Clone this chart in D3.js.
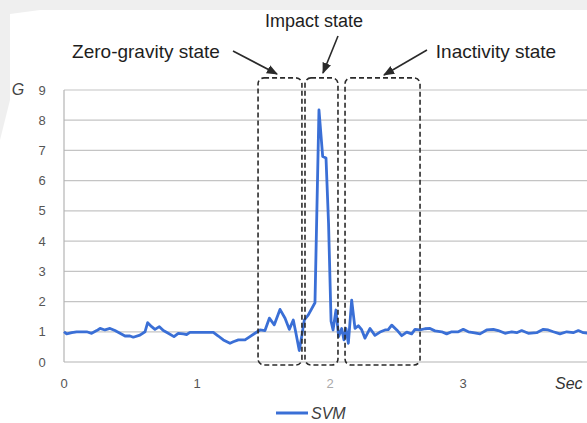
<!DOCTYPE html>
<html>
<head>
<meta charset="utf-8">
<script src="https://cdn.jsdelivr.net/npm/d3@7"></script>
<style>
  html, body { margin: 0; padding: 0; background: #fff; }
  svg { display: block; }
  text { font-family: "Liberation Sans", Arial, sans-serif; }
</style>
</head>
<body>
<svg id="chart" width="587" height="423"></svg>
<script>
// ---- data ----
const seconds = [
  0, 0.020, 0.058, 0.095, 0.171, 0.208, 0.246, 0.271, 0.308, 0.346,
  0.383, 0.421, 0.459, 0.496, 0.521, 0.571, 0.609, 0.629, 0.659, 0.684,
  0.717, 0.747, 0.784, 0.827, 0.859, 0.897, 0.922, 0.947, 1.023, 1.123,
  1.160, 1.198, 1.248, 1.273, 1.311, 1.361, 1.398,
  1.436, 1.474, 1.511, 1.544, 1.581, 1.624, 1.662, 1.694, 1.724, 1.744,
  1.769, 1.787, 1.807, 1.837, 1.887, 1.917, 1.945, 1.970, 1.989, 2.008,
  2.023, 2.045, 2.065, 2.088, 2.105, 2.120, 2.138, 2.163, 2.188, 2.213,
  2.238, 2.263, 2.301, 2.338, 2.376, 2.414, 2.438, 2.464, 2.502, 2.539,
  2.577, 2.614, 2.639, 2.677, 2.714, 2.752, 2.789,
  2.840, 2.877, 2.915, 2.965, 3.002, 3.040, 3.077, 3.128, 3.178, 3.228,
  3.265, 3.316, 3.366, 3.404, 3.441, 3.491, 3.554, 3.604, 3.641, 3.679,
  3.729, 3.780, 3.829, 3.867, 3.905, 3.955
];
const svm = [
  1.0, 0.93, 0.97, 1.0, 1.0, 0.95, 1.04, 1.11, 1.06, 1.11,
  1.04, 0.95, 0.86, 0.86, 0.82, 0.89, 1.0, 1.30, 1.17, 1.08,
  1.17, 1.04, 0.95, 0.84, 0.95, 0.93, 0.91, 0.98, 0.98, 0.98,
  0.86, 0.73, 0.62, 0.67, 0.73, 0.73, 0.84,
  0.95, 1.06, 1.04, 1.45, 1.23, 1.74, 1.45, 1.08, 1.39, 0.95,
  0.38, 0.84, 1.39, 1.56, 1.96, 8.34, 6.80, 6.75, 4.6, 1.35,
  1.06, 1.72, 0.84, 1.11, 0.73, 1.11, 0.62, 2.05, 1.11, 1.2,
  1.07, 0.79, 1.11, 0.88, 0.99, 1.06, 1.07, 1.22, 1.06, 0.87,
  0.99, 0.93, 1.08, 1.06, 1.1, 1.11, 1.03,
  1.0, 0.93, 1.0, 1.0, 1.08, 1.0, 0.97, 0.93, 1.06, 1.08,
  1.04, 0.95, 1.0, 0.97, 1.04, 0.95, 0.97, 1.08, 1.06, 1.0,
  0.93, 1.0, 0.97, 1.04, 0.97, 0.95
];
const yTicks = [0, 1, 2, 3, 4, 5, 6, 7, 8, 9];
const xTicks = [0, 1, 2, 3];
const seriesName = "SVM";
const yAxisTitle = "G";
const xAxisTitle = "Sec";

// state boxes (seconds)
const stateNames = ["Zero-gravity state", "Impact state", "Inactivity state"];
const stateStart = [1.459, 1.812, 2.113];
const stateEnd   = [1.789, 2.060, 2.677];
const boxTop = 9.4, boxBottom = -0.1;

// ---- layout ----
const svg = d3.select("#chart");
const W = 587, H = 423;
const mLeft = 64, mTop = 90, mBottom = 362;
const pxPerSec = 133;
const x = d3.scaleLinear().domain([0, (W - mLeft) / pxPerSec]).range([mLeft, W]);
const y = d3.scaleLinear().domain([0, 9]).range([mBottom, mTop]);

// background (scanned page look)
svg.append("rect").attr("width", W).attr("height", H).attr("fill", "#ffffff");
svg.append("polygon")
  .attr("points", "0,0 587,0 587,10 40,10 10,14 10,100 0,140")
  .attr("fill", "#efefef");

// gridlines
svg.append("g").selectAll("line").data(yTicks.filter(d => d > 0)).join("line")
  .attr("x1", mLeft).attr("x2", W)
  .attr("y1", d => y(d)).attr("y2", d => y(d))
  .attr("stroke", "#c4c4c4").attr("stroke-width", 1.2);

// axes lines
svg.append("line").attr("x1", mLeft).attr("x2", W).attr("y1", y(0)).attr("y2", y(0))
  .attr("stroke", "#b4b4b4").attr("stroke-width", 1.2);
svg.append("line").attr("x1", mLeft).attr("x2", mLeft).attr("y1", y(0)).attr("y2", y(9))
  .attr("stroke", "#b4b4b4").attr("stroke-width", 1.2);

// y tick labels
svg.append("g").selectAll("text").data(yTicks).join("text")
  .attr("x", 42).attr("y", d => y(d) + 4.5)
  .attr("text-anchor", "middle")
  .attr("font-size", 13).attr("fill", "#555")
  .text(d => d);
svg.append("text").attr("x", 18).attr("y", y(9) + 5)
  .attr("text-anchor", "middle").attr("font-size", 16)
  .attr("font-style", "italic").attr("fill", "#444").text(yAxisTitle);

// x tick labels
svg.append("g").selectAll("text").data(xTicks).join("text")
  .attr("x", d => x(d)).attr("y", 388)
  .attr("text-anchor", "middle")
  .attr("font-size", 13).attr("fill", d => d === 2 ? "#aaa" : "#555")
  .text(d => d);
svg.append("text").attr("x", 555).attr("y", 389)
  .attr("font-size", 16).attr("font-style", "italic").attr("fill", "#333")
  .text(xAxisTitle);

// series line
const pts = seconds.map((t, i) => [t, svm[i]]);
svg.append("path").datum(pts)
  .attr("fill", "none").attr("stroke", "#3a6fd6").attr("stroke-width", 2.8)
  .attr("stroke-linejoin", "round")
  .attr("d", d3.line().x(d => x(d[0])).y(d => y(d[1])));

// state boxes
svg.append("g").selectAll("rect").data(stateNames).join("rect")
  .attr("x", (d, i) => x(stateStart[i]))
  .attr("y", y(boxTop))
  .attr("width", (d, i) => x(stateEnd[i]) - x(stateStart[i]))
  .attr("height", y(boxBottom) - y(boxTop))
  .attr("rx", 6).attr("ry", 6)
  .attr("fill", "none").attr("stroke", "#2a2a2a")
  .attr("stroke-width", 1.6).attr("stroke-dasharray", "5,3");

// annotations
const defs = svg.append("defs");
defs.append("marker").attr("id", "arr").attr("viewBox", "0 0 10 10")
  .attr("refX", 9).attr("refY", 5).attr("markerWidth", 7).attr("markerHeight", 7)
  .attr("orient", "auto")
  .append("path").attr("d", "M0,1 L10,5 L0,9 Z").attr("fill", "#2a2a2a");

const labelX = [146, 314, 496];
const labelY = [58, 27, 58];
const labelSize = [19, 18, 19];
const arrowFrom = [[233, 51], [338, 36], [427, 50]];
const arrowTo = [[277, 74], [323, 73], [384, 75]];

svg.append("g").selectAll("text").data(stateNames).join("text")
  .attr("x", (d, i) => labelX[i]).attr("y", (d, i) => labelY[i])
  .attr("text-anchor", "middle").attr("font-size", (d, i) => labelSize[i]).attr("fill", "#1e1e1e")
  .text(d => d);
svg.append("g").selectAll("line").data(stateNames).join("line")
  .attr("x1", (d, i) => arrowFrom[i][0]).attr("y1", (d, i) => arrowFrom[i][1])
  .attr("x2", (d, i) => arrowTo[i][0]).attr("y2", (d, i) => arrowTo[i][1])
  .attr("stroke", "#2a2a2a").attr("stroke-width", 1.6)
  .attr("marker-end", "url(#arr)");

// legend
svg.append("line").attr("x1", 276).attr("x2", 308).attr("y1", 413).attr("y2", 413)
  .attr("stroke", "#3a6fd6").attr("stroke-width", 3);
svg.append("text").attr("x", 311).attr("y", 419)
  .attr("font-size", 16).attr("font-style", "italic").attr("fill", "#404040")
  .text(seriesName);
</script>
</body>
</html>
